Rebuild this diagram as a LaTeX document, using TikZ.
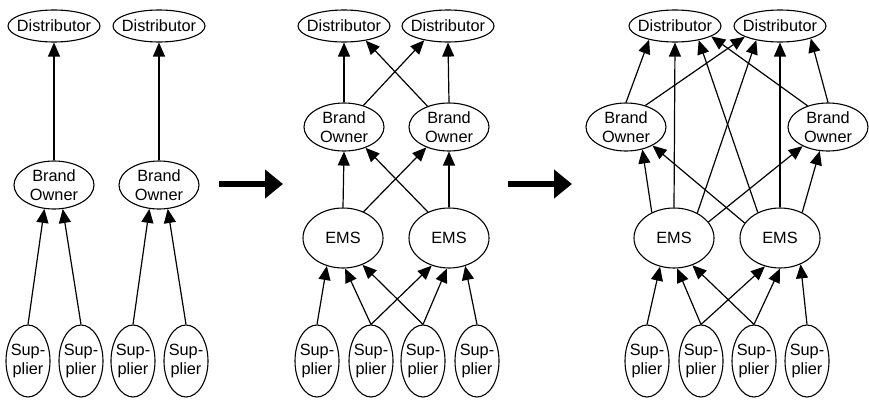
\documentclass[tikz,border=0pt]{standalone}
\usepackage{fontspec}
\setmainfont{Liberation Sans}
\usetikzlibrary{arrows.meta,shapes.geometric}
\begin{document}
\begin{tikzpicture}[x=1pt,y=-1pt,
  every label/.style={inner sep=0pt, align=center, text=black,
    font=\fontsize{16.3}{19.4}\selectfont},
  oval/.style={draw, ellipse, line width=1.1pt, inner sep=0pt},
  dist/.style={oval, minimum width=92pt, minimum height=32pt, label={center:Distributor}},
  brand/.style={oval, minimum width=80pt, minimum height=48pt, label={center:{Brand\\Owner}}},
  ems/.style={oval, minimum width=80pt, minimum height=60pt, label={center:EMS}},
  supp/.style={oval, minimum width=44pt, minimum height=72pt, label={center:{Sup-\\plier}}},
  link/.style={line width=1.2pt, -{Triangle[length=14pt,width=12pt]}},
  stagearrow/.style={line width=6pt, -{Triangle[length=18pt,width=28pt]}}
]
\useasboundingbox (0,0) rectangle (869,399);

% ---- stage 1: separate chains ----
\node[dist]  (pa-d1) at (54,26)  {};
\node[dist]  (pa-d2) at (159,26) {};
\node[brand] (pa-b1) at (54,185) {};
\node[brand] (pa-b2) at (159,185) {};
\node[supp]  (pa-s1) at (28,361)  {};
\node[supp]  (pa-s2) at (81,361)  {};
\node[supp]  (pa-s3) at (133,361) {};
\node[supp]  (pa-s4) at (186,361) {};

\draw[link] (pa-b1.north) -- (pa-d1.south);
\draw[link] (pa-b2.north) -- (pa-d2.south);
\draw[link] (pa-s1.north) -- (pa-b1.-112);
\draw[link] (pa-s2.north) -- (pa-b1.-70);
\draw[link] (pa-s3.north) -- (pa-b2.-112);
\draw[link] (pa-s4.north) -- (pa-b2.-70);

% ---- transition arrows ----
\coordinate (g1a) at (219,184);
\coordinate (g1b) at (283,184);
\coordinate (g2a) at (508,184);
\coordinate (g2b) at (572,184);
\draw[stagearrow] (g1a) -- (g1b);
\draw[stagearrow] (g2a) -- (g2b);

% ---- stage 2: EMS layer, cross links ----
\node[dist]  (pb-d1) at (344,26) {};
\node[dist]  (pb-d2) at (448,26) {};
\node[brand] (pb-b1) at (344,127) {};
\node[brand] (pb-b2) at (449,127) {};
\node[ems]   (pb-e1) at (343,238) {};
\node[ems]   (pb-e2) at (449,238) {};
\node[supp]  (pb-s1) at (317,361) {};
\node[supp]  (pb-s2) at (371,361) {};
\node[supp]  (pb-s3) at (423,361) {};
\node[supp]  (pb-s4) at (477,361) {};

\draw[link] (pb-b1.north) -- (pb-d1.south);
\draw[link] (pb-b1.48) -- (pb-d2.-149);
\draw[link] (pb-b2.136) -- (pb-d1.-34);
\draw[link] (pb-b2.north) -- (pb-d2.south);
\draw[link] (pb-e1.north) -- (pb-b1.south);
\draw[link] (pb-e1.52) -- (pb-b2.-138);
\draw[link] (pb-e2.129) -- (pb-b1.-44);
\draw[link] (pb-e2.north) -- (pb-b2.south);
\draw[link] (pb-s1.north) -- (pb-e1.-120);
\draw[link] (pb-s2.north) -- (pb-e1.-86);
\draw[link] (pb-s2.north) -- (pb-e2.-122);
\draw[link] (pb-s3.north) -- (pb-e1.-54);
\draw[link] (pb-s3.north) -- (pb-e2.-94);
\draw[link] (pb-s4.north) -- (pb-e2.-60);

% ---- stage 3: EMS also feeds distributors ----
\node[dist]  (pc-d1) at (675,26) {};
\node[dist]  (pc-d2) at (780,26) {};
\node[brand] (pc-b1) at (626,127) {};
\node[brand] (pc-b2) at (828,127) {};
\node[ems]   (pc-e1) at (674,238) {};
\node[ems]   (pc-e2) at (780,238) {};
\node[supp]  (pc-s1) at (647,361) {};
\node[supp]  (pc-s2) at (701,361) {};
\node[supp]  (pc-s3) at (754,361) {};
\node[supp]  (pc-s4) at (807,361) {};

\draw[link] (pc-b1.north) -- (pc-d1.-152);
\draw[link] (pc-b1.48) -- (pc-d2.-163);
\draw[link] (pc-e1.north) -- (pc-d1.south);
\draw[link] (pc-e1.47) -- (pc-d2.-149);
\draw[link] (pc-e1.131) -- (pc-b1.-54);
\draw[link] (pc-e1.25) -- (pc-b2.-143);
\draw[link] (pc-e2.157) -- (pc-b1.-35);
\draw[link] (pc-e2.131) -- (pc-d1.-31);
\draw[link] (pc-e2.north) -- (pc-d2.south);
\draw[link] (pc-e2.49) -- (pc-b2.-109);
\draw[link] (pc-b2.134) -- (pc-d1.-16);
\draw[link] (pc-b2.north) -- (pc-d2.-22);
\draw[link] (pc-s1.north) -- (pc-e1.-116);
\draw[link] (pc-s2.north) -- (pc-e1.-84);
\draw[link] (pc-s2.north) -- (pc-e2.-118);
\draw[link] (pc-s3.north) -- (pc-e1.-56);
\draw[link] (pc-s3.north) -- (pc-e2.south);
\draw[link] (pc-s4.north) -- (pc-e2.-52);
\end{tikzpicture}
\end{document}
